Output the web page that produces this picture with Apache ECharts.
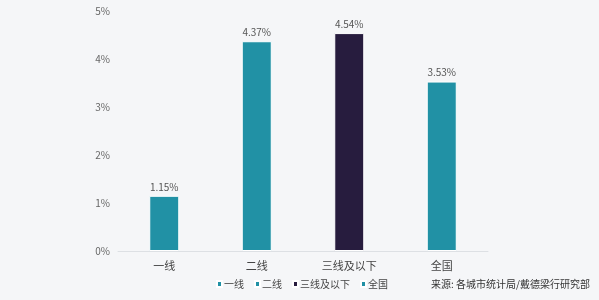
<!DOCTYPE html>
<html><head><meta charset="utf-8">
<script src="https://cdn.jsdelivr.net/npm/echarts@6/dist/echarts.min.js"></script>
<style>html,body{margin:0;padding:0;background:#f5f6f8;}#c{width:599px;height:300px;}</style>
</head><body><div id="c"></div>
<script>
const categories = ['一线', '二线', '三线及以下', '全国'];
const values = [1.15, 4.37, 4.54, 3.53];
const colors = ['#2191a5', '#2191a5', '#271c3e', '#2191a5'];
const yTicks = [0, 1, 2, 3, 4, 5];
const source = '来源: 各城市统计局/戴德梁行研究部';

const font = '"Noto Sans CJK SC", "Noto Sans", sans-serif';
const series = categories.map((c, i) => ({
  name: c,
  type: 'bar',
  stack: 's',
  barWidth: 30,
  data: categories.map((_, j) => j === i ? values[i] : '-'),
  itemStyle: { color: colors[i], borderColor: '#ffffff', borderWidth: 1 },
  label: { show: true, position: 'top', formatter: p => p.value.toFixed(2) + '%', color: '#555', fontSize: 10, fontFamily: font, distance: 4 }
}));
const chart = echarts.init(document.getElementById('c'));
chart.setOption({
  backgroundColor: '#f5f6f8',
  animation: false,
  color: colors,
  grid: { left: 118, right: 111, top: 11, bottom: 49 },
  xAxis: {
    type: 'category', data: categories,
    axisLine: { lineStyle: { color: '#dde0e4' } },
    axisTick: { show: false },
    axisLabel: { color: '#444', fontSize: 11, fontFamily: font, margin: 9 }
  },
  yAxis: {
    type: 'value', min: yTicks[0], max: yTicks[yTicks.length - 1], interval: 1,
    splitLine: { show: false },
    axisLine: { show: false },
    axisLabel: { color: '#666', fontSize: 10, fontFamily: font, margin: 8, formatter: v => v + '%' }
  },
  legend: {
    data: categories,
    left: 216, top: 279, padding: 0,
    itemWidth: 5, itemHeight: 6, itemGap: 10,
    icon: 'rect',
    textStyle: { color: '#444', fontSize: 10, fontFamily: font, padding: [0, 0, 0, -3] }
  },
  graphic: [{
    type: 'text', left: 431, top: 279,
    style: { text: source, fill: '#333', font: '10px ' + font }
  }],
  series
});
</script></body></html>
